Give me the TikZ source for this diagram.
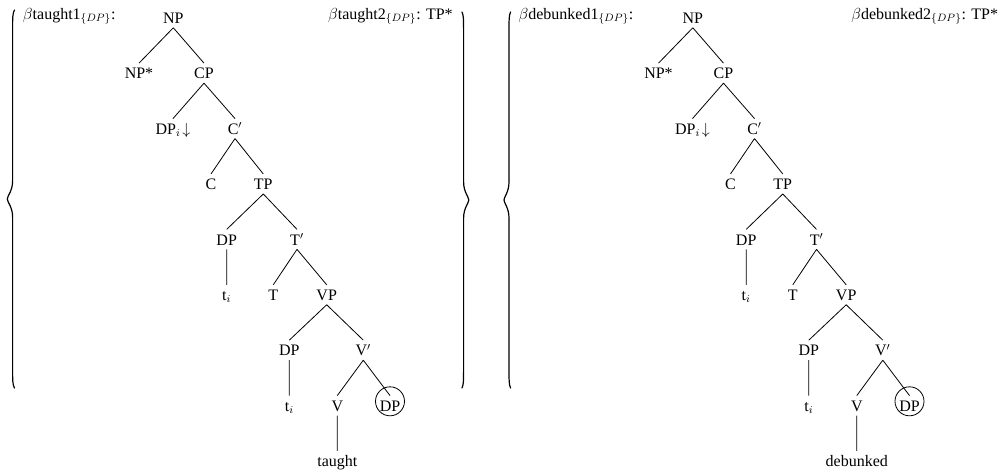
\documentclass[tikz,border=0pt]{standalone}
\usepackage{fontspec}
\setmainfont{Liberation Serif}
\tikzset{
  lbl/.style={anchor=base, inner xsep=1pt, inner ysep=3pt, text height=8.6pt, text depth=0pt},
  branch/.style={line width=0.6pt},
  bracepath/.style={line width=0.9pt, line cap=round},
  ring/.style={draw, circle, line width=0.6pt, minimum size=21.75pt, inner sep=0pt},
  hdr/.style={inner sep=0pt}
}
% #1 end x, #2 body x, #3 tip x, #4 top y, #5 bottom y
\newcommand\mybrace[5]{%
 \pgfmathsetmacro\bmid{(#4+#5)/2}%
 \draw[bracepath] (#1,#4) .. controls (#2,{#4+3}) and (#2,{#4+8}) .. (#2,{#4+20})
   -- (#2,{\bmid-18}) .. controls (#2,{\bmid-8}) and (#3,{\bmid-3}) .. (#3,\bmid)
   .. controls (#3,{\bmid+3}) and (#2,{\bmid+8}) .. (#2,{\bmid+18})
   -- (#2,{#5-20}) .. controls (#2,{#5-8}) and (#2,{#5-3}) .. (#1,#5);
}
\newcommand\mytree[2]{%
 \node[lbl] (#1np) at (173.3,23.5) {NP};
 \node[lbl] (#1nps) at (139,78.9) {NP*};
 \node[lbl] (#1cp) at (204,78.9) {CP};
 \node[lbl] (#1dpi) at (173,134.3) {DP$_i\!\downarrow$};
 \node[lbl] (#1cb) at (235,134.3) {C$'$};
 \node[lbl] (#1c) at (211,189.7) {C};
 \node[lbl] (#1tp) at (263.3,189.7) {TP};
 \node[lbl] (#1dpa) at (226.7,245.1) {DP};
 \node[lbl] (#1tbar) at (297,245.1) {T$'$};
 \node[lbl] (#1ta) at (226.7,300.5) {t$_i$};
 \node[lbl] (#1t) at (273.3,300.5) {T};
 \node[lbl] (#1vp) at (326.7,300.5) {VP};
 \node[lbl] (#1dpb) at (289.3,355.9) {DP};
 \node[lbl] (#1vbar) at (363.3,355.9) {V$'$};
 \node[lbl] (#1tb) at (289.3,411.3) {t$_i$};
 \node[lbl] (#1v) at (337.3,411.3) {V};
 \node[lbl] (#1dpc) at (390,411.3) {DP};
 \node[lbl] (#1verb) at (337.3,466.7) {#2};
 \node[ring, yshift=7.5pt] (#1ring) at (#1dpc.base) {};
 \draw[branch] (#1np.south) -- (#1nps.north) (#1np.south) -- (#1cp.north)
   (#1cp.south) -- (#1dpi.north) (#1cp.south) -- (#1cb.north)
   (#1cb.south) -- (#1c.north) (#1cb.south) -- (#1tp.north)
   (#1tp.south) -- (#1dpa.north) (#1tp.south) -- (#1tbar.north)
   (#1dpa.south) -- (#1ta.north)
   (#1tbar.south) -- (#1t.north) (#1tbar.south) -- (#1vp.north)
   (#1vp.south) -- (#1dpb.north) (#1vp.south) -- (#1vbar.north)
   (#1dpb.south) -- (#1tb.north)
   (#1vbar.south) -- (#1v.north) (#1vbar.south) -- (#1dpc.north)
   (#1v.south) -- (#1verb.north);
}
\begin{document}
\begin{tikzpicture}[x=0.75pt,y=-0.75pt,font=\fontsize{12}{14.4}\selectfont]
\useasboundingbox (0,0) rectangle (1000,475);
\begin{scope}
 \mytree{a}{taught}
\end{scope}
\begin{scope}[xshift=389.625pt]
 \mytree{b}{debunked}
\end{scope}
\node[hdr, anchor=base west] (lab1) at (22.7,19) {$\beta$taught1$_{\{DP\}}$:};
\node[hdr, anchor=base east] (lab2) at (453,19) {$\beta$taught2$_{\{DP\}}$: TP*};
\node[hdr, anchor=base west] (lab3) at (518.3,19) {$\beta$debunked1$_{\{DP\}}$:};
\node[hdr, anchor=base east] (lab4) at (998.3,19) {$\beta$debunked2$_{\{DP\}}$: TP*};
\mybrace{14.5}{12.6}{7.3}{10}{388}
\mybrace{462}{463.6}{468.8}{12}{388}
\mybrace{510.6}{509}{504}{12}{388}
\end{tikzpicture}
\end{document}
